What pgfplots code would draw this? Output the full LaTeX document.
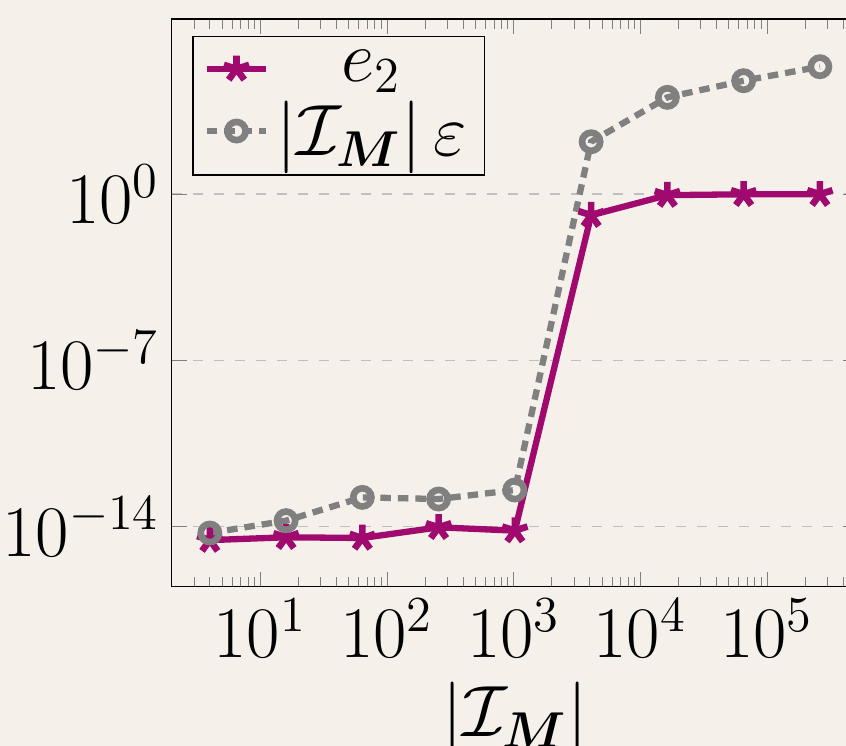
\documentclass[border=0pt]{standalone}
\usepackage{pgfplots}
\pgfplotsset{compat=1.18}
\usepackage{bm}
\definecolor{bg}{RGB}{246,240,235}
\definecolor{mag}{RGB}{160,10,110}
\begin{document}
\begin{tikzpicture}
\fill[bg] (-49.06pt,-45.5pt) rectangle (192.66pt,167.63pt);
\begin{axis}[
 scale only axis, width=196.1pt, height=162.2pt,
 xmode=log, ymode=log, xmin=2, xmax=524288, ymin=2.95e-17, ymax=2.4e7,
 ytick={1e-14,1e-7,1},
 ymajorgrids, major grid style={dashed, black!25, line width=0.4pt},
 tick label style={font=\huge}, label style={font=\huge},
 xlabel={$|\mathcal{I}_{\bm{M}}|$},
 legend pos=north west, legend cell align=center,
 legend style={font=\huge, fill=none, draw=black},
]
\addplot[mag, line width=1.8pt, mark=star, mark size=3.8pt, mark options={line width=1.9pt}] coordinates {
(4,2.69e-15) (16,3.55e-15) (64,3.31e-15) (256,9.33e-15) (1024,6.76e-15)
(4096,0.130) (16384,0.912) (65536,0.99) (262144,0.99)};
\addlegendentry{$e_2$}
\addplot[gray, line width=1.8pt, densely dashed, mark=o, mark size=2.6pt, mark options={solid, line width=1.9pt}] coordinates {
(4,5.37e-15) (16,1.78e-14) (64,1.70e-13) (256,1.45e-13) (1024,3.47e-13)
(4096,162) (16384,1.20e4) (65536,6.03e4) (262144,2.34e5)};
\addlegendentry{$|\mathcal{I}_{\bm{M}}|\,\varepsilon$}
\end{axis}
\pgfresetboundingbox
\path[use as bounding box] (-49.06pt,-45.5pt) rectangle (192.66pt,167.63pt);
\end{tikzpicture}
\end{document}
